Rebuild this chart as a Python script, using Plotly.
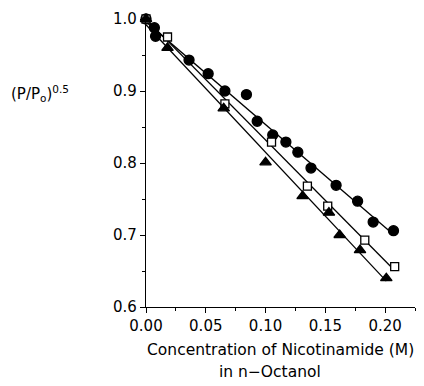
import numpy as np
import plotly.graph_objects as go

# Filled circles
circ_x = [0.0, 0.007, 0.008, 0.036, 0.052, 0.066, 0.084, 0.093, 0.106, 0.117, 0.127, 0.138, 0.159, 0.177, 0.190, 0.207]
circ_y = [1.0, 0.988, 0.976, 0.943, 0.924, 0.900, 0.895, 0.858, 0.839, 0.829, 0.815, 0.793, 0.769, 0.747, 0.718, 0.706]
# Open squares
sq_x = [0.0, 0.018, 0.066, 0.105, 0.135, 0.152, 0.183, 0.208]
sq_y = [1.0, 0.975, 0.882, 0.829, 0.768, 0.740, 0.693, 0.656]
# Filled triangles
tri_x = [0.0, 0.018, 0.065, 0.100, 0.131, 0.153, 0.162, 0.179, 0.201]
tri_y = [1.0, 0.960, 0.876, 0.801, 0.754, 0.731, 0.700, 0.679, 0.640]

x_ticks = [0.00, 0.05, 0.10, 0.15, 0.20]
x_tick_labels = ["0.00", "0.05", "0.10", "0.15", "0.20"]
y_ticks = [0.6, 0.7, 0.8, 0.9, 1.0]
y_tick_labels = ["0.6", "0.7", "0.8", "0.9", "1.0"]

FONT = "DejaVu Sans"
fig = go.Figure()

def add_series(xs, ys, symbol, size, fill):
    xs = np.array(xs); ys = np.array(ys)
    m, b = np.polyfit(xs, ys, 1)
    lx = np.array([0.0, xs.max()])
    fig.add_trace(go.Scatter(x=lx, y=m * lx + b, mode="lines",
                             line=dict(color="black", width=1.3),
                             showlegend=False, hoverinfo="skip", cliponaxis=False))
    fig.add_trace(go.Scatter(x=xs, y=ys, mode="markers", showlegend=False,
                             cliponaxis=False,
                             marker=dict(symbol=symbol, size=size,
                                         color=fill,
                                         line=dict(color="black", width=1.3))))

add_series(circ_x, circ_y, "circle", 10, "black")
add_series(sq_x, sq_y, "square", 8, "white")
add_series(tri_x, tri_y, "triangle-up", 10, "black")

axis_common = dict(showgrid=False, zeroline=False, showline=True, linecolor="black",
                   linewidth=1.3, ticks="outside", ticklen=5, tickwidth=1.3,
                   tickcolor="black", tickfont=dict(family=FONT, size=15, color="black"),
                   minor=dict(ticks="outside", ticklen=3, tickwidth=1, tickcolor="black"))

fig.update_xaxes(range=[0, 0.225], tickvals=x_ticks, ticktext=x_tick_labels,
                 minor_dtick=0.025, **axis_common)
fig.update_yaxes(range=[0.6, 1.0], tickvals=y_ticks, ticktext=y_tick_labels,
                 minor_dtick=0.05, **axis_common)

# x-axis title (two lines)
fig.add_annotation(text="Concentration of Nicotinamide (M)", xref="paper", yref="paper",
                   x=0.50, y=-0.149, xanchor="center", yanchor="middle", showarrow=False,
                   font=dict(family=FONT, size=15.5, color="black"))
fig.add_annotation(text="in n\u2212Octanol", xref="paper", yref="paper",
                   x=0.461, y=-0.226, xanchor="center", yanchor="middle", showarrow=False,
                   font=dict(family=FONT, size=15.5, color="black"))

# y-axis title (horizontal)
fig.add_annotation(text="(P/P<sub>o</sub>)<sup>0.5</sup>", xref="paper", yref="paper",
                   x=-0.51, y=0.74, xanchor="left", yanchor="middle", showarrow=False,
                   font=dict(family=FONT, size=15, color="black"))

fig.update_layout(width=424, height=386, margin=dict(l=146, r=9, t=19, b=79),
                  plot_bgcolor="white", paper_bgcolor="white")

fig.write_html("out.html")
